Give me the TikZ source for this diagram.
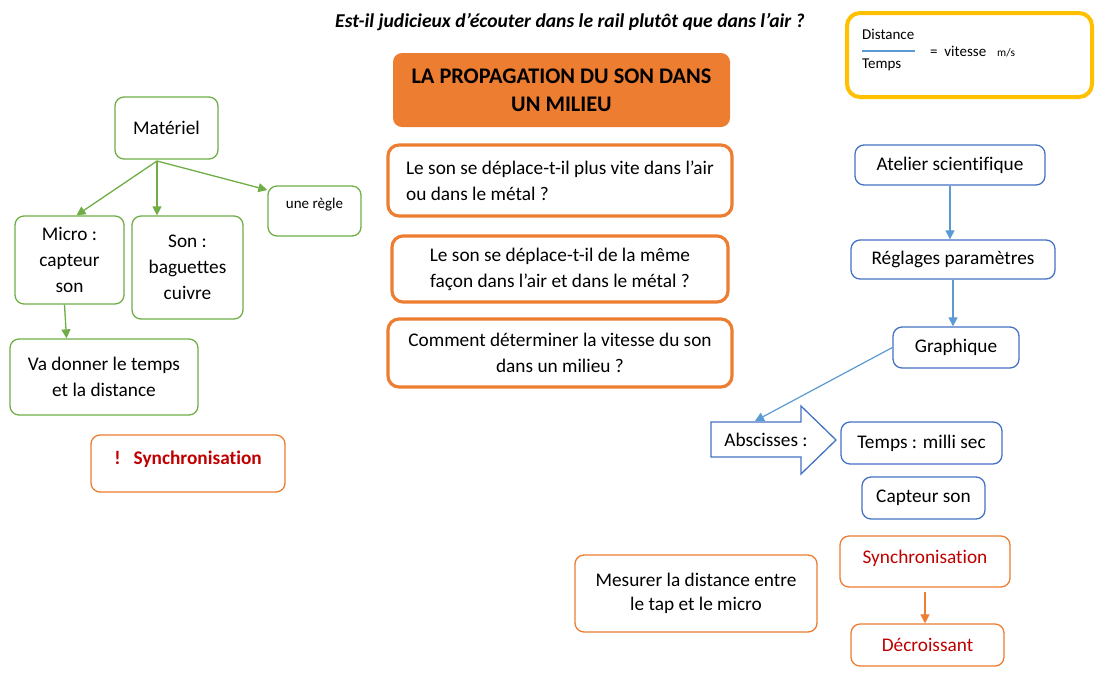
\documentclass[tikz,border=0pt]{standalone}
\usepackage{fontspec}
\setmainfont{Carlito}[Ligatures=NoCommon]
\usepackage{tikz}
\usetikzlibrary{calc}
\usetikzlibrary{arrows.meta}
\definecolor{matgreen}{HTML}{70AD47}
\definecolor{sonorange}{HTML}{ED7D31}
\definecolor{atelblue}{HTML}{4472C4}
\definecolor{linkblue}{HTML}{5B9BD5}
\definecolor{syncred}{HTML}{C00000}
\definecolor{formyellow}{HTML}{FFC000}

\begin{document}
\begin{tikzpicture}[x=1pt, y=-1pt,
  txt/.style={font=\fontsize{19.3}{26}\selectfont},
  box/.style={rounded corners=9pt, fill=white, align=center, inner sep=0pt, txt},
  greenbox/.style={box, draw=matgreen, line width=1.3pt},
  bluebox/.style={box, draw=atelblue, line width=1.3pt},
  orangebox/.style={box, draw=sonorange, line width=1.3pt},
  qbox/.style={box, draw=sonorange, line width=3.2pt, rounded corners=11pt},
  tip/.style={-{Triangle[length=9pt, width=9pt]}},
  greenarrow/.style={tip, draw=matgreen, fill=matgreen, line width=1.3pt},
  bluearrow/.style={tip, draw=linkblue, fill=linkblue, line width=1.2pt},
  orangearrow/.style={tip, draw=sonorange, fill=sonorange, line width=1.2pt},
]
\useasboundingbox (0, 0) rectangle (1100, 675);

% title
\node [font=\fontsize{19.6}{24}\selectfont\bfseries\itshape] (titre) at (570, 22)
  {Est-il judicieux d’écouter dans le rail plutôt que dans l’air ?};

% formula
\node [draw=formyellow, line width=4pt, rounded corners=13pt, minimum width=245pt, minimum height=84pt] (formule) at (969.5, 55) {};
\node [anchor=west, inner sep=0pt, font=\fontsize{15}{18}\selectfont] (dist) at (862, 34) {Distance};
\node [anchor=west, inner sep=0pt, font=\fontsize{15}{18}\selectfont] (tps) at (862, 65) {Temps};
\draw [linkblue, line width=1.2pt] (862, 51) -- (915, 51);
\node [anchor=west, inner sep=0pt, font=\fontsize{15}{18}\selectfont] (vit) at (930, 51) {=\ \ vitesse};
\node [anchor=west, inner sep=0pt, font=\fontsize{11.4}{14}\selectfont] (unite) at (997, 53) {m/s};

% centre
\node [box, fill=sonorange, minimum width=337pt, minimum height=74pt,
  font=\fontsize{22.3}{28}\selectfont\bfseries] (propa) at (561.5, 90)
  {LA PROPAGATION DU SON DANS\\UN MILIEU};
\node [qbox, align=left, minimum width=344pt, minimum height=71pt] (q1) at (560, 180.5)
  {Le son se déplace-t-il plus vite dans l’air\\ou dans le métal ?};
\node [qbox, minimum width=336pt, minimum height=66pt] (q2) at (560, 269)
  {Le son se déplace-t-il de la même\\façon dans l’air et dans le métal ?};
\node [qbox, minimum width=344pt, minimum height=68pt] (q3) at (560, 353)
  {Comment déterminer la vitesse du son\\dans un milieu ?};

% materiel
\node [greenbox, minimum width=103pt, minimum height=62pt] (mat) at (166.5, 128) {Matériel};
\node [greenbox, minimum width=109pt, minimum height=88pt] (micro) at (69.5, 260) {Micro :\\capteur\\son};
\node [greenbox, minimum width=111pt, minimum height=103pt] (son) at (187.5, 267.5) {Son :\\baguettes\\cuivre};
\node [greenbox, minimum width=93pt, minimum height=50pt, font=\fontsize{15}{18}\selectfont,
  text height=11pt, text depth=17pt] (regle) at (314.5, 211) {une règle};
\node [greenbox, minimum width=188pt, minimum height=76pt] (vadon) at (104, 377) {Va donner le temps\\et la distance};
\coordinate (fourche) at (157, 161);
\draw [greenarrow] (fourche) -- ($(micro.north)+(7, 0)$);
\draw [greenarrow] (fourche) -- (fourche |- son.north);
\draw [greenarrow] (fourche) -- (regle.156);
\draw [greenarrow] ($(micro.south)+(-5, 0)$) -- ($(micro.south |- vadon.north)+(-3, 0)$);

\node [orangebox, minimum width=194pt, minimum height=57pt, text=syncred, font=\fontsize{19.3}{26}\selectfont\bfseries,
  text height=14pt, text depth=12pt] (syncg) at (188, 463.5) {!\ \ \ Synchronisation};

% atelier
\node [bluebox, minimum width=190pt, minimum height=40pt] (atelier) at (950, 165) {Atelier scientifique};
\node [bluebox, minimum width=204pt, minimum height=39pt] (reglages) at (953, 259.5) {Réglages paramètres};
\node [bluebox, minimum width=126pt, minimum height=41pt] (graph) at (956, 347.5) {Graphique};
\draw [bluearrow] (atelier.south) -- (atelier.south |- reglages.north);
\draw [bluearrow] (reglages.south) -- (reglages.south |- graph.north);

\draw [draw=atelblue, line width=1.3pt, fill=white, line join=miter]
  (711, 422) -- (801, 422) -- (801, 406) -- (836, 440) -- (801, 474) -- (801, 457) -- (711, 457) -- cycle;
\node [txt, inner sep=0pt] (absc) at (766, 440) {Abscisses :};
\coordinate (absc-in) at (755, 421);
\draw [bluearrow] (graph.west) -- (absc-in);

\node [bluebox, minimum width=161pt, minimum height=42pt] (temps) at (921.5, 443) {Temps : milli sec};
\node [bluebox, minimum width=123pt, minimum height=42pt] (capteur) at (923.5, 498) {Capteur son};

% mesure
\node [orangebox, minimum width=170pt, minimum height=51pt, text=syncred,
  text height=14pt, text depth=10pt] (syncd) at (925, 561.5) {Synchronisation};
\node [orangebox, minimum width=153pt, minimum height=42pt, text=syncred] (decr) at (927.5, 645) {Décroissant};
\draw [orangearrow, shorten <=4pt] (syncd.south) -- (syncd.south |- decr.north);
\node [orangebox, minimum width=242pt, minimum height=77pt, font=\fontsize{19.3}{24}\selectfont] (mesure) at (696, 593.5)
  {Mesurer la distance entre\\le tap et le micro};

\end{tikzpicture}
\end{document}
